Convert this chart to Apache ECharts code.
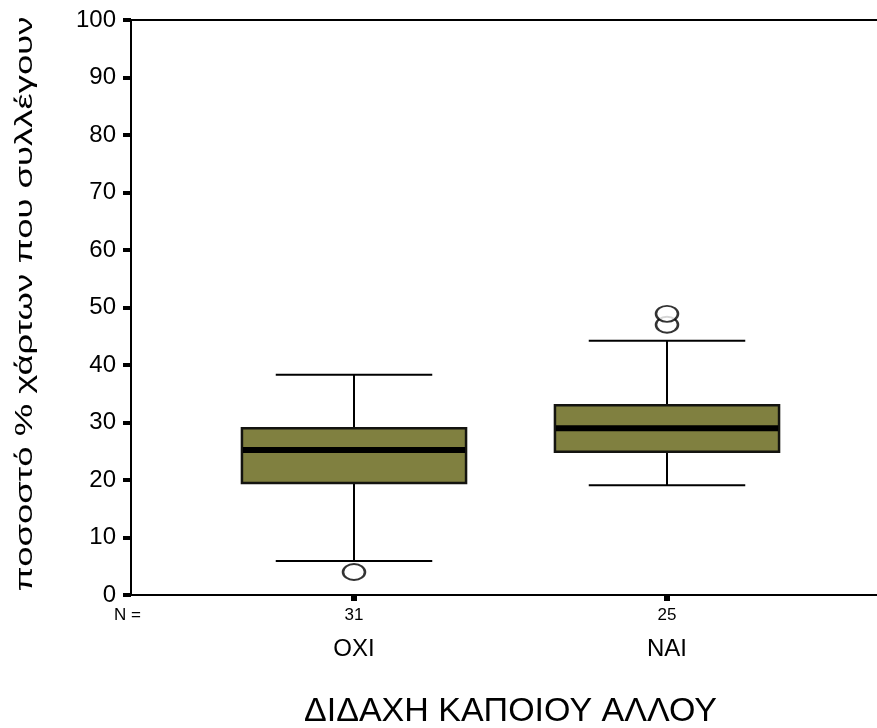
<!DOCTYPE html>
<html>
<head>
<meta charset="utf-8">
<script src="https://cdn.jsdelivr.net/npm/echarts@6/dist/echarts.min.js"></script>
<style>
  html, body { margin: 0; padding: 0; background: #ffffff; }
  #chart { width: 877px; height: 728px; }
</style>
</head>
<body>
<div id="chart"></div>
<script>
// Groups on the horizontal axis and their sample sizes
const categories = ['ΟΧΙ', 'ΝΑΙ'];
const groupCounts = [31, 25];

// Per group: [lower whisker, Q1, median, Q3, upper whisker]
const boxStats = [
  [5.9, 19.5, 25.2, 29.0, 38.3],
  [19.1, 24.9, 29.0, 33.0, 44.2]
];

// Points beyond the whiskers: [group, value]
const outliers = [
  ['ΟΧΙ', 4.0],
  ['ΝΑΙ', 47.0],
  ['ΝΑΙ', 48.9]
];

// Value axis range and step
const yMin = 0;
const yMax = 100;
const yStep = 10;

const yTitle = 'ποσοστό % χάρτων που συλλέγουν';
const xTitle = 'ΔΙΔΑΧΗ ΚΑΠΟΙΟΥ ΑΛΛΟΥ';
const countPrefix = 'N =';

const FONT = '"Liberation Sans", Arial, sans-serif';
const BOX_FILL = '#808040';
const INK = '#000000';

const chart = echarts.init(document.getElementById('chart'), null, { renderer: 'canvas' });

const boxRows = boxStats.map((s, i) => [i].concat(s));

function renderBox(params, api) {
  const idx = api.value(0);
  const lo = api.coord([idx, api.value(1)]);
  const q1 = api.coord([idx, api.value(2)]);
  const med = api.coord([idx, api.value(3)]);
  const q3 = api.coord([idx, api.value(4)]);
  const hi = api.coord([idx, api.value(5)]);
  const band = api.size([1, 0])[0];
  const boxW = band * 0.716;
  const capW = band * 0.5;
  const cx = med[0];
  const thin = { stroke: INK, lineWidth: 2 };
  return {
    type: 'group',
    children: [
      { type: 'line', shape: { x1: cx, y1: hi[1], x2: cx, y2: q3[1] }, style: thin },
      { type: 'line', shape: { x1: cx, y1: q1[1], x2: cx, y2: lo[1] }, style: thin },
      { type: 'line', shape: { x1: cx - capW / 2, y1: hi[1], x2: cx + capW / 2, y2: hi[1] }, style: thin },
      { type: 'line', shape: { x1: cx - capW / 2, y1: lo[1], x2: cx + capW / 2, y2: lo[1] }, style: thin },
      {
        type: 'rect',
        shape: { x: cx - boxW / 2, y: q3[1], width: boxW, height: q1[1] - q3[1] },
        style: { fill: BOX_FILL, stroke: '#141410', lineWidth: 2.5 }
      },
      { type: 'line', shape: { x1: cx - boxW / 2 + 1, y1: med[1], x2: cx + boxW / 2 - 1, y2: med[1] }, style: { stroke: INK, lineWidth: 6 } }
    ]
  };
}

const frameLine = { show: true, lineStyle: { color: INK, width: 2 } };

const option = {
  backgroundColor: '#ffffff',
  animation: false,
  grid: [
    // frame: full-width axes
    { left: 131, right: 0, top: 20, bottom: 133, outerBoundsMode: 'none', containLabel: false },
    // group bands
    { left: 197.5, right: 53.5, top: 20, bottom: 133, outerBoundsMode: 'none', containLabel: false }
  ],
  xAxis: [
    {
      gridIndex: 0, type: 'value', min: 0, max: 1, position: 'bottom',
      axisLine: frameLine,
      axisTick: { show: false }, axisLabel: { show: false }, splitLine: { show: false }
    },
    {
      gridIndex: 0, type: 'value', min: 0, max: 1, position: 'top',
      axisLine: frameLine,
      axisTick: { show: false }, axisLabel: { show: false }, splitLine: { show: false }
    },
    {
      gridIndex: 1, type: 'category', data: categories,
      axisLine: { show: false },
      axisTick: { show: true, alignWithLabel: true, length: 6, lineStyle: { color: INK, width: 6 } },
      axisLabel: {
        margin: 8,
        color: INK,
        formatter: (val, i) => '{n|' + groupCounts[i] + '}\n{c|' + val + '}',
        rich: {
          n: { fontFamily: FONT, fontSize: 17, lineHeight: 24, color: INK },
          c: { fontFamily: FONT, fontSize: 24, lineHeight: 44, color: INK }
        }
      },
      name: xTitle,
      nameLocation: 'middle',
      nameGap: 100,
      nameTextStyle: { fontFamily: FONT, fontSize: 34, color: INK },
      splitLine: { show: false }
    }
  ],
  yAxis: [
    {
      gridIndex: 0, type: 'value', min: yMin, max: yMax, interval: yStep,
      axisLine: frameLine,
      axisTick: { show: true, inside: false, length: 8, lineStyle: { color: INK, width: 4 } },
      axisLabel: { margin: 15, color: INK, fontFamily: FONT, fontSize: 24 },
      splitLine: { show: false }
    },
    {
      gridIndex: 1, type: 'value', min: yMin, max: yMax, show: false,
      splitLine: { show: false }
    }
  ],
  graphic: [
    {
      type: 'text', x: 25, y: 304, rotation: Math.PI / 2, scaleX: 1.52,
      style: { text: yTitle, font: '24px ' + FONT, fill: INK, textAlign: 'center', textVerticalAlign: 'middle' }
    },
    {
      type: 'text', x: 114, y: 615,
      style: { text: countPrefix, font: '17px ' + FONT, fill: INK, textAlign: 'left', textVerticalAlign: 'middle' }
    }
  ],
  series: [
    {
      type: 'custom',
      xAxisIndex: 2, yAxisIndex: 1,
      data: boxRows,
      encode: { x: 0, y: [1, 2, 3, 4, 5] },
      renderItem: renderBox,
      z: 2
    },
    {
      type: 'scatter',
      xAxisIndex: 2, yAxisIndex: 1,
      data: outliers,
      symbol: 'circle',
      symbolSize: [22, 16],
      itemStyle: { color: '#ffffff', borderColor: INK, borderWidth: 2.2 },
      z: 3
    }
  ]
};

chart.setOption(option);
</script>
</body>
</html>
